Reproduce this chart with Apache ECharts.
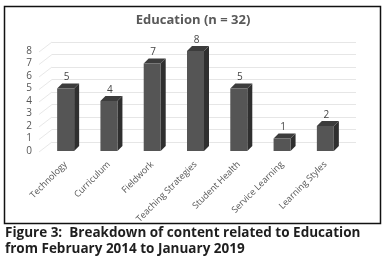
<!DOCTYPE html>
<html>
<head>
<meta charset="utf-8">
<script src="https://cdn.jsdelivr.net/npm/echarts@6/dist/echarts.min.js"></script>
<style>html,body{margin:0;padding:0;background:#fff;}#c{width:386px;height:262px;}</style>
</head>
<body>
<div id="c"></div>
<script>
const categories = ['Technology', 'Curriculum', 'Fieldwork', 'Teaching Strategies', 'Student Health', 'Service Learning', 'Learning Styles'];
const values = [5, 4, 7, 8, 5, 1, 2];
const yTicks = [0, 1, 2, 3, 4, 5, 6, 7, 8];
const chartTitle = 'Education (n = 32)';
const captionLines = ['Figure 3:  Breakdown of content related to Education', 'from February 2014 to January 2019'];

const chart = echarts.init(document.getElementById('c'), null, {renderer: 'canvas'});
const BW = 17, DX = 5, DY = -5;

chart.setOption({
  backgroundColor: '#ffffff',
  animation: false,
  title: {
    text: chartTitle, left: 'center', top: 9,
    textStyle: {fontFamily: 'Open Sans', fontSize: 13, fontWeight: 'bold', color: '#595959'}
  },
  grid: [
    {left: 44, right: 39, top: 51, bottom: 111},
    {left: 52, right: 30, top: 42, bottom: 120}
  ],
  xAxis: [
    {type: 'category', gridIndex: 0, data: categories,
     axisLine: {show: false}, axisTick: {show: false},
     axisLabel: {rotate: 45, margin: 12, interval: 0, fontSize: 9, color: '#555', fontFamily: 'Open Sans'}},
    {type: 'category', gridIndex: 1, data: categories, show: false}
  ],
  yAxis: [
    {type: 'value', gridIndex: 0, min: 0, max: 8, interval: 1,
     axisLine: {show: false}, axisTick: {show: false}, splitLine: {show: false},
     axisLabel: {margin: 12, fontSize: 10, color: '#555', fontFamily: 'Open Sans', padding: [3, 0, 0, 0]}},
    {type: 'value', gridIndex: 1, min: 0, max: 8, interval: 1,
     axisLine: {show: false}, axisTick: {show: false}, axisLabel: {show: false},
     splitLine: {show: true, lineStyle: {color: '#e6e6e6', width: 1}}}
  ],
  series: [
    {
      type: 'custom', xAxisIndex: 0, yAxisIndex: 0, z: 1,
      data: yTicks.map(v => [0, v]),
      renderItem: function (params, api) {
        const p = api.coord([0, api.value(1)]);
        const x0 = params.coordSys.x;
        return {type: 'line', shape: {x1: x0 - 5, y1: p[1] + 1, x2: x0 + 8, y2: p[1] - 9},
          style: {stroke: '#e8e8e8', lineWidth: 1}};
      }
    },
    {
      type: 'custom', xAxisIndex: 0, yAxisIndex: 0, z: 5,
      data: values.map((v, i) => [i, v]),
      renderItem: function (params, api) {
        const top = api.coord([api.value(0), api.value(1)]);
        const base = api.coord([api.value(0), 0]);
        const x = top[0] - BW / 2, y = top[1], h = base[1] - top[1];
        return {type: 'group', children: [
          {type: 'polygon', shape: {points: [[x + BW, y], [x + BW + DX, y + DY], [x + BW + DX, y + h + DY], [x + BW, y + h]]},
           style: {fill: '#2f2f2f'}},
          {type: 'polygon', shape: {points: [[x, y], [x + DX, y + DY], [x + BW + DX, y + DY], [x + BW, y]]},
           style: {fill: '#3c3c3c'}},
          {type: 'rect', shape: {x: x, y: y, width: BW, height: h}, style: {fill: '#555555'}},
          {type: 'text', style: {text: String(api.value(1)), x: top[0] + 1, y: y - 11, align: 'center', verticalAlign: 'middle',
            fontSize: 10, fill: '#444', fontFamily: 'Open Sans'}}
        ]};
      }
    }
  ],
  graphic: [
    {type: 'rect', shape: {x: 4.5, y: 6.5, width: 376, height: 217}, style: {fill: 'none', stroke: '#111', lineWidth: 1.5}, z: 100},
    {type: 'text', left: 5, top: 226, style: {text: captionLines[0], fontFamily: 'Open Sans', fontWeight: 'bold', fontSize: 13.5, fill: '#1e1e1e'}},
    {type: 'text', left: 5, top: 242, style: {text: captionLines[1], fontFamily: 'Open Sans', fontWeight: 'bold', fontSize: 13.5, fill: '#1e1e1e'}}
  ]
});
</script>
</body>
</html>
